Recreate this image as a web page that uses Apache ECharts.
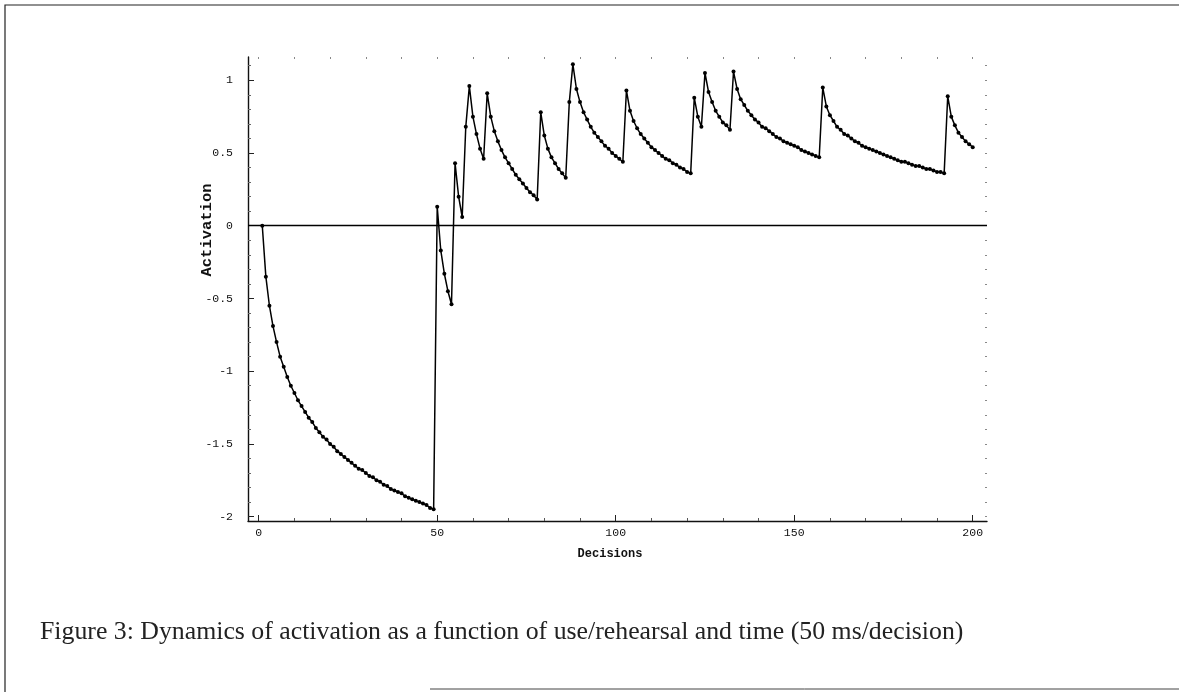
<!DOCTYPE html>
<html>
<head>
<meta charset="utf-8">
<script src="https://cdn.jsdelivr.net/npm/echarts@6/dist/echarts.min.js"></script>
<style>
  html, body { margin: 0; padding: 0; background: #fff; }
  #chart { width: 1179px; height: 692px; }
</style>
</head>
<body>
<div id="chart"></div>
<script>
// activation after each decision, decisions 1..200
const firstDecision = 1;
const activation = [
  0.00, -0.35, -0.55, -0.69, -0.80, -0.90, -0.97, -1.04, -1.10, -1.15,
  -1.20, -1.24, -1.28, -1.32, -1.35, -1.39, -1.42, -1.45, -1.47, -1.50,
  -1.52, -1.55, -1.57, -1.59, -1.61, -1.63, -1.65, -1.67, -1.68, -1.70,
  -1.72, -1.73, -1.75, -1.76, -1.78, -1.79, -1.81, -1.82, -1.83, -1.84,
  -1.86, -1.87, -1.88, -1.89, -1.90, -1.91, -1.92, -1.94, -1.95, 0.13,
  -0.17, -0.33, -0.45, -0.54, 0.43, 0.20, 0.06, 0.68, 0.96, 0.75,
  0.63, 0.53, 0.46, 0.91, 0.75, 0.65, 0.58, 0.52, 0.47, 0.43,
  0.39, 0.35, 0.32, 0.29, 0.26, 0.23, 0.21, 0.18, 0.78, 0.62,
  0.53, 0.47, 0.43, 0.39, 0.36, 0.33, 0.85, 1.11, 0.94, 0.85,
  0.78, 0.73, 0.68, 0.64, 0.61, 0.58, 0.55, 0.53, 0.50, 0.48,
  0.46, 0.44, 0.93, 0.79, 0.72, 0.67, 0.63, 0.60, 0.57, 0.54,
  0.52, 0.50, 0.48, 0.46, 0.45, 0.43, 0.42, 0.40, 0.39, 0.37,
  0.36, 0.88, 0.75, 0.68, 1.05, 0.92, 0.85, 0.79, 0.75, 0.71,
  0.69, 0.66, 1.06, 0.94, 0.87, 0.83, 0.79, 0.76, 0.73, 0.71,
  0.68, 0.67, 0.65, 0.63, 0.61, 0.60, 0.58, 0.57, 0.56, 0.55,
  0.54, 0.52, 0.51, 0.50, 0.49, 0.48, 0.47, 0.95, 0.82, 0.76,
  0.72, 0.68, 0.66, 0.63, 0.62, 0.60, 0.58, 0.57, 0.55, 0.54,
  0.53, 0.52, 0.51, 0.50, 0.49, 0.48, 0.47, 0.46, 0.45, 0.44,
  0.44, 0.43, 0.42, 0.41, 0.41, 0.40, 0.39, 0.39, 0.38, 0.37,
  0.37, 0.36, 0.89, 0.75, 0.69, 0.64, 0.61, 0.58, 0.56, 0.54
];

const xTicks = [0, 50, 100, 150, 200];
const xMinorTicks = [10, 20, 30, 40, 60, 70, 80, 90, 110, 120, 130, 140, 160, 170, 180, 190];
const yTicks = [-2, -1.5, -1, -0.5, 0, 0.5, 1];
const yMinorTicks = [-1.9, -1.8, -1.7, -1.6, -1.4, -1.3, -1.2, -1.1, -0.9, -0.8, -0.7, -0.6,
  -0.4, -0.3, -0.2, -0.1, 0.1, 0.2, 0.3, 0.4, 0.6, 0.7, 0.8, 0.9, 1.1];

const xLabel = 'Decisions';
const yLabel = 'Activation';
const caption = 'Figure 3: Dynamics of activation as a function of use/rehearsal and time (50 ms/decision)';

const points = activation.map((v, i) => [firstDecision + i, v]);

const mono = '"Liberation Mono", "DejaVu Sans Mono", monospace';
const X_MIN = -3, X_MAX = 204, Y_MIN = -2.03, Y_MAX = 1.16;

const chart = echarts.init(document.getElementById('chart'), null, { renderer: 'canvas' });

const hidden = { show: false };
const xCommon = { type: 'value', min: X_MIN, max: X_MAX, gridIndex: 0, splitLine: hidden };
const yCommon = { type: 'value', min: Y_MIN, max: Y_MAX, gridIndex: 0, splitLine: hidden };

chart.setOption({
  animation: false,
  backgroundColor: '#fff',
  grid: { left: 248, right: 192, top: 57, bottom: 171 },
  xAxis: [
    Object.assign({}, xCommon, {
      position: 'bottom',
      axisLine: { show: true, onZero: false, lineStyle: { color: '#111', width: 1.4 } },
      axisTick: { show: true, inside: true, length: 6, customValues: xTicks, lineStyle: { color: '#222' } },
      axisLabel: { customValues: xTicks, margin: 6, color: '#111', fontFamily: mono, fontSize: 11.5 }
    }),
    Object.assign({}, xCommon, {
      position: 'bottom',
      axisLine: { show: false, onZero: false },
      axisTick: { show: true, inside: true, length: 3, customValues: xMinorTicks, lineStyle: { color: '#555' } },
      axisLabel: hidden
    }),
    Object.assign({}, xCommon, {
      position: 'top',
      axisLine: { show: false, onZero: false },
      axisTick: { show: true, inside: true, length: 2, customValues: xTicks.concat(xMinorTicks), lineStyle: { color: '#888' } },
      axisLabel: hidden
    })
  ],
  yAxis: [
    Object.assign({}, yCommon, {
      position: 'left',
      axisLine: { show: true, onZero: false, lineStyle: { color: '#111', width: 1.4 } },
      axisTick: { show: true, inside: true, length: 6, customValues: yTicks, lineStyle: { color: '#222' } },
      axisLabel: { customValues: yTicks, margin: 15, color: '#111', fontFamily: mono, fontSize: 11.5 }
    }),
    Object.assign({}, yCommon, {
      position: 'left',
      axisLine: { show: false, onZero: false },
      axisTick: { show: true, inside: true, length: 3, customValues: yMinorTicks, lineStyle: { color: '#666' } },
      axisLabel: hidden
    }),
    Object.assign({}, yCommon, {
      position: 'right',
      axisLine: { show: false, onZero: false },
      axisTick: { show: true, inside: true, length: 2, customValues: yTicks.concat(yMinorTicks), lineStyle: { color: '#888' } },
      axisLabel: hidden
    })
  ],
  series: [{
    type: 'line',
    xAxisIndex: 0,
    yAxisIndex: 0,
    data: points,
    symbol: 'circle',
    symbolSize: 4,
    showAllSymbol: true,
    itemStyle: { color: '#000' },
    lineStyle: { color: '#000', width: 1.5 },
    markLine: {
      silent: true,
      symbol: 'none',
      label: hidden,
      lineStyle: { color: '#000', width: 1.3, type: 'solid' },
      data: [{ yAxis: 0 }]
    }
  }],
  graphic: [
    {
      // scanned page border: top and left edges, bottom edge only partly
      type: 'polyline', silent: true,
      shape: { points: [[1179, 5], [5, 5], [5, 692]] },
      style: { fill: 'none', stroke: '#222', lineWidth: 1.2 }
    },
    {
      type: 'line', silent: true,
      shape: { x1: 430, y1: 689, x2: 1179, y2: 689 },
      style: { stroke: '#444', lineWidth: 1 }
    },
    {
      type: 'text', silent: true,
      x: 610, y: 554,
      style: { text: xLabel, font: 'bold 12px ' + mono, fill: '#111', align: 'center', verticalAlign: 'middle' }
    },
    {
      type: 'text', silent: true,
      x: 207, y: 230, rotation: Math.PI / 2,
      style: { text: yLabel, font: 'bold 15.5px ' + mono, fill: '#111', align: 'center', verticalAlign: 'middle' }
    },
    {
      type: 'text', silent: true,
      x: 40, y: 632,
      style: { text: caption, font: '25.8px "Liberation Serif", "DejaVu Serif", serif', fill: '#222', verticalAlign: 'middle' }
    }
  ]
});
</script>
</body>
</html>
